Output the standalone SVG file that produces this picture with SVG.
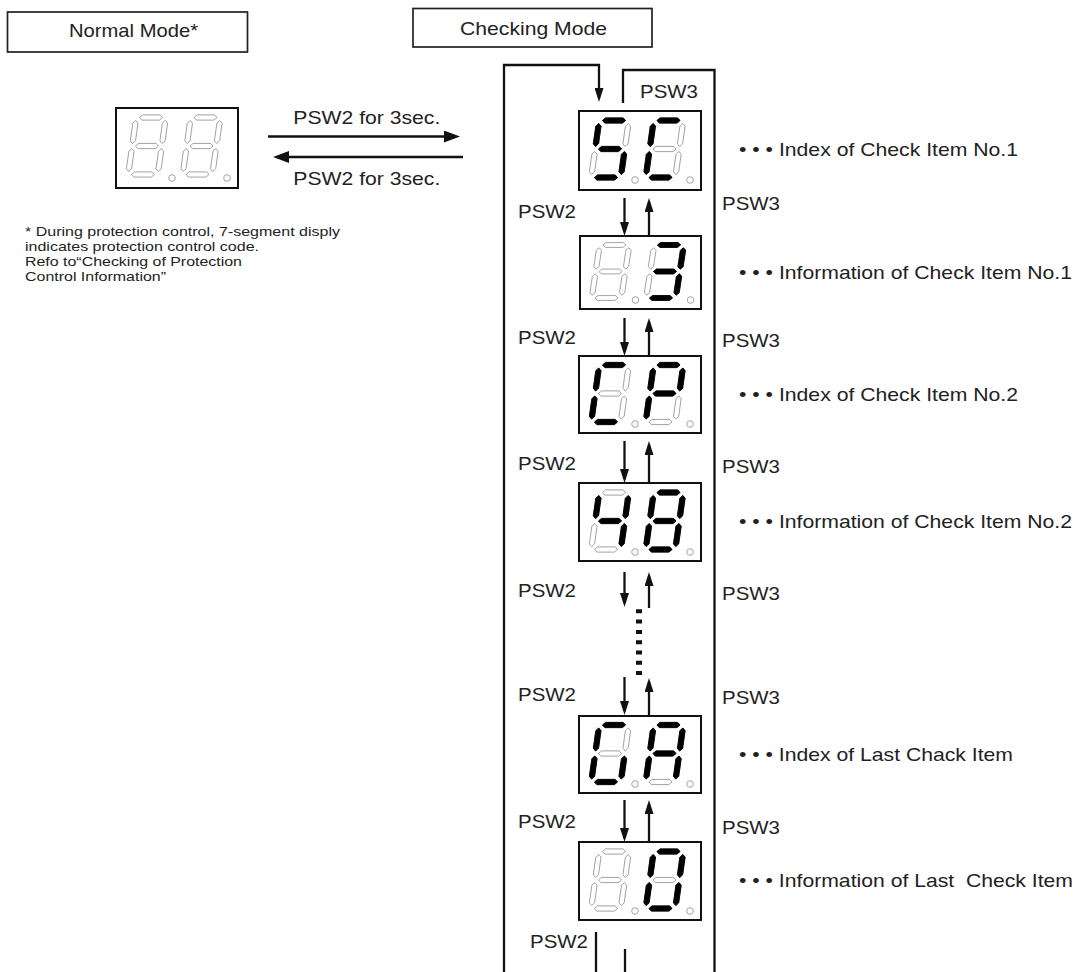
<svg xmlns="http://www.w3.org/2000/svg" width="1081" height="972" viewBox="0 0 1081 972">
<style>
text{font-family:"Liberation Sans",Arial,sans-serif;fill:#222;}
.t{font-size:17.8px;}
.fn{font-size:13.5px;}
.mode{fill:#fff;stroke:#222;stroke-width:1.7;}
.disp{fill:#fff;stroke:#111;stroke-width:2;}
.on{fill:#000;stroke:#000;stroke-width:0.9;stroke-linejoin:round;}
.dp{fill:#fff;stroke:#9a9a9a;stroke-width:0.9;}
.ln{fill:none;stroke:#111;stroke-width:2.3;}
.ar{fill:none;stroke:#111;stroke-width:2.5;}
.dots{fill:none;stroke:#111;stroke-width:6;stroke-dasharray:4 6.3;}
</style>
<defs>
<marker id="mh" markerUnits="userSpaceOnUse" markerWidth="16" markerHeight="12" refX="12" refY="6" orient="auto"><path d="M0,0 L16,6 L0,12 z" fill="#111"/></marker>
<marker id="mv" markerUnits="userSpaceOnUse" markerWidth="14" markerHeight="9" refX="10" refY="4.5" orient="auto"><path d="M0,0 L14,4.5 L0,9 z" fill="#111"/></marker>
<polygon id="sa" points="-11.5,-28.5 -8.8,-31.1 8.8,-31.1 11.5,-28.5 8.8,-25.9 -8.8,-25.9"/>
<polygon id="sd" points="-11.5,28.5 -8.8,25.9 8.8,25.9 11.5,28.5 8.8,31.1 -8.8,31.1"/>
<polygon id="sg" points="-11.5,0 -8.8,-2.6 8.8,-2.6 11.5,0 8.8,2.6 -8.8,2.6"/>
<polygon id="sf" points="-14.8,-25.5 -12.2,-22.8 -12.2,-5.2 -14.8,-2.5 -17.4,-5.2 -17.4,-22.8"/>
<polygon id="sb" points="14.8,-25.5 17.4,-22.8 17.4,-5.2 14.8,-2.5 12.2,-5.2 12.2,-22.8"/>
<polygon id="se" points="-14.8,2.5 -12.2,5.2 -12.2,22.8 -14.8,25.5 -17.4,22.8 -17.4,5.2"/>
<polygon id="sc" points="14.8,2.5 17.4,5.2 17.4,22.8 14.8,25.5 12.2,22.8 12.2,5.2"/>
<g id="d8" fill="#fff" stroke="#9a9a9a" stroke-width="0.9">
<use href="#sa"/><use href="#sb"/><use href="#sc"/><use href="#sd"/><use href="#se"/><use href="#sf"/><use href="#sg"/>
</g>
</defs>

<g id="normal-mode">
<rect class="mode" x="7.5" y="12" width="240" height="40"/>
<text class="t" x="69" y="37" textLength="129" lengthAdjust="spacingAndGlyphs">Normal Mode*</text>
</g>

<g id="checking-mode">
<rect class="mode" x="413" y="8.5" width="239" height="38.5"/>
<text class="t" x="460" y="35" textLength="147" lengthAdjust="spacingAndGlyphs">Checking Mode</text>
</g>

<g id="normal-display" transform="translate(116,108)">
<rect class="disp" width="122" height="80"/>
<g transform="translate(31,38) skewX(-8)"><use href="#d8"/></g>
<g transform="translate(85.5,38) skewX(-8)"><use href="#d8"/></g>
<circle class="dp" cx="56" cy="70" r="3.3"/><circle class="dp" cx="111" cy="70" r="3.3"/>
</g>

<g id="footnote">
<text class="fn" x="25" y="235.7" textLength="315" lengthAdjust="spacingAndGlyphs">* During protection control, 7-segment disply</text>
<text class="fn" x="25" y="250.9" textLength="234" lengthAdjust="spacingAndGlyphs">indicates protection control code.</text>
<text class="fn" x="25" y="266.1" textLength="217" lengthAdjust="spacingAndGlyphs">Refo to“Checking of Protection</text>
<text class="fn" x="25" y="281.3" textLength="141" lengthAdjust="spacingAndGlyphs">Control Information”</text>
</g>

<g id="connectors">
<path class="ln" d="M504,972 V65 H599 V98" marker-end="url(#mv)"/>
<path class="ln" d="M623,103 V70 H714.5 V972"/>
<line class="ar" x1="268" y1="136.5" x2="456" y2="136.5" marker-end="url(#mh)"/>
<line class="ar" x1="463" y1="157" x2="277" y2="157" marker-end="url(#mh)"/>
<line class="ln" x1="624.5" y1="198" x2="624.5" y2="232" marker-end="url(#mv)"/>
<line class="ln" x1="649" y1="236" x2="649" y2="202" marker-end="url(#mv)"/>
<line class="ln" x1="624.5" y1="318" x2="624.5" y2="352" marker-end="url(#mv)"/>
<line class="ln" x1="649" y1="356" x2="649" y2="322" marker-end="url(#mv)"/>
<line class="ln" x1="624.5" y1="441" x2="624.5" y2="479" marker-end="url(#mv)"/>
<line class="ln" x1="649" y1="483" x2="649" y2="445" marker-end="url(#mv)"/>
<line class="ln" x1="624.5" y1="572" x2="624.5" y2="603" marker-end="url(#mv)"/>
<line class="ln" x1="649" y1="608" x2="649" y2="576" marker-end="url(#mv)"/>
<line class="dots" x1="639" y1="609.3" x2="639" y2="675"/>
<line class="ln" x1="624.5" y1="677" x2="624.5" y2="711" marker-end="url(#mv)"/>
<line class="ln" x1="649" y1="716" x2="649" y2="682" marker-end="url(#mv)"/>
<line class="ln" x1="624.5" y1="800" x2="624.5" y2="838" marker-end="url(#mv)"/>
<line class="ln" x1="649" y1="842" x2="649" y2="804" marker-end="url(#mv)"/>
<line class="ln" x1="596" y1="932" x2="596" y2="972"/>
<line class="ln" x1="625" y1="949" x2="625" y2="972"/>
</g>

<g id="labels">
<text class="t" x="293.3" y="124" textLength="147" lengthAdjust="spacingAndGlyphs">PSW2 for 3sec.</text>
<text class="t" x="293.3" y="185" textLength="147" lengthAdjust="spacingAndGlyphs">PSW2 for 3sec.</text>
<text class="t" x="640" y="98" textLength="58" lengthAdjust="spacingAndGlyphs">PSW3</text>
<text class="t" x="518" y="217.7" textLength="58" lengthAdjust="spacingAndGlyphs">PSW2</text>
<text class="t" x="722" y="210" textLength="58" lengthAdjust="spacingAndGlyphs">PSW3</text>
<text class="t" x="518" y="344" textLength="58" lengthAdjust="spacingAndGlyphs">PSW2</text>
<text class="t" x="722" y="347" textLength="58" lengthAdjust="spacingAndGlyphs">PSW3</text>
<text class="t" x="518" y="470" textLength="58" lengthAdjust="spacingAndGlyphs">PSW2</text>
<text class="t" x="722" y="473" textLength="58" lengthAdjust="spacingAndGlyphs">PSW3</text>
<text class="t" x="518" y="597" textLength="58" lengthAdjust="spacingAndGlyphs">PSW2</text>
<text class="t" x="722" y="600" textLength="58" lengthAdjust="spacingAndGlyphs">PSW3</text>
<text class="t" x="518" y="701" textLength="58" lengthAdjust="spacingAndGlyphs">PSW2</text>
<text class="t" x="722" y="704" textLength="58" lengthAdjust="spacingAndGlyphs">PSW3</text>
<text class="t" x="518" y="828" textLength="58" lengthAdjust="spacingAndGlyphs">PSW2</text>
<text class="t" x="722" y="834" textLength="58" lengthAdjust="spacingAndGlyphs">PSW3</text>
<text class="t" x="530" y="948" textLength="58" lengthAdjust="spacingAndGlyphs">PSW2</text>
</g>

<g id="item1-index" transform="translate(579,111)">
<rect class="disp" width="122" height="79"/>
<g transform="translate(31,38) skewX(-8)"><use href="#d8"/><use class="on" href="#sa"/><use class="on" href="#sf"/><use class="on" href="#sg"/><use class="on" href="#sc"/><use class="on" href="#sd"/></g>
<g transform="translate(85.5,38) skewX(-8)"><use href="#d8"/><use class="on" href="#sa"/><use class="on" href="#sf"/><use class="on" href="#se"/><use class="on" href="#sd"/></g>
<circle class="dp" cx="56" cy="69" r="3.3"/><circle class="dp" cx="111" cy="69" r="3.3"/>
<text class="t" x="160" y="45" textLength="279" lengthAdjust="spacingAndGlyphs">• • • Index of Check Item No.1</text>
</g>

<g id="item1-info" transform="translate(580,236)">
<rect class="disp" width="121" height="73"/>
<g transform="translate(30.5,35.5) scale(1,0.93) skewX(-8)"><use href="#d8"/></g>
<g transform="translate(85,35.5) scale(1,0.93) skewX(-8)"><use href="#d8"/><use class="on" href="#sa"/><use class="on" href="#sb"/><use class="on" href="#sg"/><use class="on" href="#sc"/><use class="on" href="#sd"/></g>
<circle class="dp" cx="55.5" cy="64" r="3.3"/><circle class="dp" cx="110.5" cy="64" r="3.3"/>
<text class="t" x="159" y="43" textLength="333" lengthAdjust="spacingAndGlyphs">• • • Information of Check Item No.1</text>
</g>

<g id="item2-index" transform="translate(579,356)">
<rect class="disp" width="122" height="77"/>
<g transform="translate(31,37.5) skewX(-8)"><use href="#d8"/><use class="on" href="#sa"/><use class="on" href="#sf"/><use class="on" href="#se"/><use class="on" href="#sd"/></g>
<g transform="translate(85.5,37.5) skewX(-8)"><use href="#d8"/><use class="on" href="#sa"/><use class="on" href="#sb"/><use class="on" href="#sf"/><use class="on" href="#sg"/><use class="on" href="#se"/></g>
<circle class="dp" cx="56" cy="68" r="3.3"/><circle class="dp" cx="111" cy="68" r="3.3"/>
<text class="t" x="160" y="45" textLength="279" lengthAdjust="spacingAndGlyphs">• • • Index of Check Item No.2</text>
</g>

<g id="item2-info" transform="translate(579,483)">
<rect class="disp" width="122" height="78"/>
<g transform="translate(31,38) skewX(-8)"><use href="#d8"/><use class="on" href="#sf"/><use class="on" href="#sb"/><use class="on" href="#sg"/><use class="on" href="#sc"/></g>
<g transform="translate(85.5,38) skewX(-8)"><use href="#d8"/><use class="on" href="#sa"/><use class="on" href="#sb"/><use class="on" href="#sc"/><use class="on" href="#sd"/><use class="on" href="#se"/><use class="on" href="#sf"/><use class="on" href="#sg"/></g>
<circle class="dp" cx="56" cy="69" r="3.3"/><circle class="dp" cx="111" cy="69" r="3.3"/>
<text class="t" x="160" y="45" textLength="333" lengthAdjust="spacingAndGlyphs">• • • Information of Check Item No.2</text>
</g>

<g id="last-index" transform="translate(579,716)">
<rect class="disp" width="122" height="77"/>
<g transform="translate(31,37.5) skewX(-8)"><use href="#d8"/><use class="on" href="#sa"/><use class="on" href="#sf"/><use class="on" href="#se"/><use class="on" href="#sd"/><use class="on" href="#sc"/></g>
<g transform="translate(85.5,37.5) skewX(-8)"><use href="#d8"/><use class="on" href="#sa"/><use class="on" href="#sb"/><use class="on" href="#sc"/><use class="on" href="#se"/><use class="on" href="#sf"/><use class="on" href="#sg"/></g>
<circle class="dp" cx="56" cy="68" r="3.3"/><circle class="dp" cx="111" cy="68" r="3.3"/>
<text class="t" x="160" y="45" textLength="274" lengthAdjust="spacingAndGlyphs">• • • Index of Last Chack Item</text>
</g>

<g id="last-info" transform="translate(579,842)">
<rect class="disp" width="122" height="78"/>
<g transform="translate(31,38) skewX(-8)"><use href="#d8"/></g>
<g transform="translate(85.5,38) skewX(-8)"><use href="#d8"/><use class="on" href="#sa"/><use class="on" href="#sb"/><use class="on" href="#sc"/><use class="on" href="#sd"/><use class="on" href="#se"/><use class="on" href="#sf"/></g>
<circle class="dp" cx="56" cy="69" r="3.3"/><circle class="dp" cx="111" cy="69" r="3.3"/>
<text class="t" x="160" y="45" textLength="334" lengthAdjust="spacingAndGlyphs" xml:space="preserve">• • • Information of Last  Check Item</text>
</g>
</svg>
